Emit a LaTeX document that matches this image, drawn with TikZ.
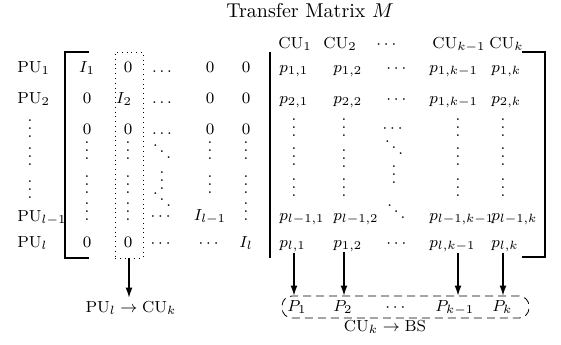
\documentclass[tikz,border=0pt]{standalone}
\usepackage{amsmath}
\usepackage{tikz}
\usetikzlibrary{arrows.meta, fit}
\newcommand{\vdotsb}{\vbox{\baselineskip4pt\lineskiplimit0pt\hbox{.}\hbox{.}\hbox{.}}}

\begin{document}
\begin{tikzpicture}[x=0.5pt, y=-0.5pt, >={Latex[length=5pt,width=3.4pt]}, font=\footnotesize]
  \tikzset{
    ent/.style={anchor=base, inner sep=0pt},
    lent/.style={anchor=base west, inner sep=0pt},
    brk/.style={line width=1.1pt},
    arr/.style={->, line width=0.6pt}
  }
  \useasboundingbox (0,0) rectangle (561,344);

  % Nadpis
  \node[ent, font=\normalsize] (title) at (310,17) {Transfer Matrix $M$};

  % Radky PU
  \foreach \y/\t [count=\i] in {72/{\mathrm{PU}_1}, 103/{\mathrm{PU}_2}, 221/{\mathrm{PU}_{l-1}}, 247/{\mathrm{PU}_l}}
    \node[lent] (pu\i) at (17,\y) {$\t$};
  \foreach \y [count=\i] in {137,165,198}
    \node[ent] (puv\i) at (30,\y) {$\vdotsb$};

  % Hlavicka CU
  \foreach \x/\t [count=\c] in {278/{\mathrm{CU}_1}, 323/{\mathrm{CU}_2}, 376/\cdots, 432/{\mathrm{CU}_{k-1}}, 489/{\mathrm{CU}_k}}
    \node[lent] (cu\c) at (\x,48) {$\t$};

  % Leva cast matice
  \foreach \x/\t [count=\c] in {87/I_1, 128/0, 162/\ldots, 210/0, 246/0}
    \node[ent] (a1\c) at (\x,72) {$\t$};
  \foreach \x/\t [count=\c] in {87/0, 124/I_2, 162/\ldots, 210/0, 246/0}
    \node[ent] (a2\c) at (\x,103) {$\t$};
  \foreach \x/\t [count=\c] in {87/0, 128/0, 162/\ldots, 210/0, 246/0}
    \node[ent] (a3\c) at (\x,134) {$\t$};
  \foreach \x/\y/\t [count=\c] in {87/159/\vdotsb, 128/159/\vdotsb, 162/160/\ddots, 210/159/\vdotsb, 246/159/\vdotsb,
                                   87/193/\vdotsb, 128/193/\vdotsb, 162/189/\vdotsb, 210/193/\vdotsb, 246/193/\vdotsb,
                                   87/220/\vdotsb, 128/220/\vdotsb, 162/208/\ddots, 246/220/\vdotsb}
    \node[ent] (av\c) at (\x,\y) {$\t$};
  \foreach \x/\t [count=\c] in {162/\cdots, 210/I_{l-1}}
    \node[ent] (a6\c) at (\x,220) {$\t$};
  \foreach \x/\t [count=\c] in {87/0, 128/0, 162/\cdots, 210/\cdots, 246/I_l}
    \node[ent] (a7\c) at (\x,247) {$\t$};

  % Prava cast matice
  \foreach \x/\t [count=\c] in {279/{p_{1,1}}, 333/{p_{1,2}}, 386/\cdots, 429/{p_{1,k-1}}, 491/{p_{1,k}}}
    \node[lent] (b1\c) at (\x,72) {$\t$};
  \foreach \x/\t [count=\c] in {279/{p_{2,1}}, 333/{p_{2,2}}, 386/\cdots, 429/{p_{1,k-1}}, 491/{p_{2,k}}}
    \node[lent] (b2\c) at (\x,103) {$\t$};
  \foreach \x/\y/\t [count=\c] in {294/136/\vdotsb, 344/136/\vdotsb, 394/132/\cdots, 458/136/\vdotsb, 503/136/\vdotsb,
                                   294/165/\vdotsb, 344/167/\vdotsb, 394/156/\ddots, 458/165/\vdotsb, 503/165/\vdotsb,
                                   294/196/\vdotsb, 344/196/\vdotsb, 394/183/\vdotsb, 458/196/\vdotsb, 503/196/\vdotsb}
    \node[ent] (bv\c) at (\x,\y) {$\t$};
  \foreach \x/\t [count=\c] in {279/{p_{l-1,1}}, 333/{p_{l-1,2}}, 386/\ddots, 429/{p_{l-1,k-1}}, 491/{p_{l-1,k}}}
    \node[lent] (b6\c) at (\x,220) {$\t$};
  \foreach \x/\t [count=\c] in {279/{p_{l,1}}, 333/{p_{1,2}}, 386/\cdots, 429/{p_{l,k-1}}, 491/{p_{l,k}}}
    \node[lent] (b7\c) at (\x,247) {$\t$};

  % Zavorky
  \draw[brk] (89,52) -- (65,52) -- (65,258) -- (89,258);
  \draw[brk] (270,52) -- (270,258);
  \draw[brk] (522,52) -- (545,52) -- (545,257) -- (522,257);

  % Vybrany sloupec
  \coordinate (s1) at (115,52);
  \coordinate (s2) at (143,258);
  \node[draw, dotted, inner sep=0pt, fit=(s1)(s2)] (sel) {};
  \node[ent, inner sep=1.5pt] (plcu) at (131,312) {$\mathrm{PU}_l \rightarrow \mathrm{CU}_k$};
  \draw[arr] (sel.south) -- (sel.south |- plcu.north);

  % Vykony P
  \foreach \x/\t [count=\c] in {287/P_1, 333/P_2, 385/\cdots, 435/P_{k-1}, 492/P_k}
    \node[lent] (bs\c) at (\x,311) {$\t$};
  \coordinate (d1) at (282,296);
  \coordinate (d2) at (529,318);
  \node[draw, dash pattern=on 4pt off 2.5pt, rounded corners=5pt, inner sep=0pt, fit=(d1)(d2)] (bsbox) {};
  \node[ent] (cubs) at (385,331) {$\mathrm{CU}_k \rightarrow \mathrm{BS}$};
  \foreach \c in {1,2,4,5}
    \draw[arr] (b7\c.south -| bv\c) -- (bv\c |- bsbox.north);
\end{tikzpicture}
\end{document}
